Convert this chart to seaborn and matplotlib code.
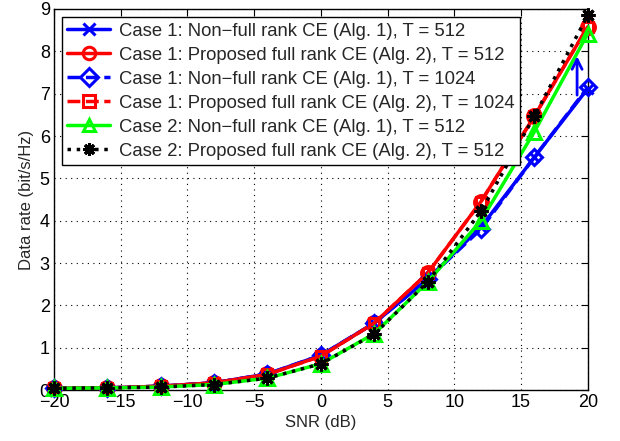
import numpy as np
import pandas as pd
import matplotlib
matplotlib.use("Agg")
import matplotlib.pyplot as plt
import seaborn as sns

snr = [-20, -16, -12, -8, -4, 0, 4, 8, 12, 16, 20]
c1_alg1_512 = [0.04, 0.05, 0.09, 0.17, 0.38, 0.82, 1.58, 2.62, 3.85, 5.50, 7.12]
c1_alg2_512 = [0.04, 0.05, 0.09, 0.17, 0.37, 0.80, 1.58, 2.76, 4.45, 6.47, 8.58]
c1_alg1_1024 = [0.04, 0.05, 0.09, 0.17, 0.38, 0.82, 1.58, 2.62, 3.80, 5.50, 7.15]
c1_alg2_1024 = [0.04, 0.05, 0.09, 0.17, 0.37, 0.80, 1.58, 2.76, 4.45, 6.47, 8.58]
c2_alg1_512 = [0.04, 0.05, 0.07, 0.13, 0.28, 0.62, 1.33, 2.55, 4.00, 6.10, 8.42]
c2_alg2_512 = [0.04, 0.05, 0.07, 0.13, 0.28, 0.62, 1.32, 2.55, 4.22, 6.47, 8.85]

labels = [
    "Case 1: Non\u2212full rank CE (Alg. 1), T = 512",
    "Case 1: Proposed full rank CE (Alg. 2), T = 512",
    "Case 1: Non\u2212full rank CE (Alg. 1), T = 1024",
    "Case 1: Proposed full rank CE (Alg. 2), T = 1024",
    "Case 2: Non\u2212full rank CE (Alg. 1), T = 512",
    "Case 2: Proposed full rank CE (Alg. 2), T = 512",
]
series = [c1_alg1_512, c1_alg2_512, c1_alg1_1024, c1_alg2_1024, c2_alg1_512, c2_alg2_512]

styles = [
    dict(color=(0, 0, 1), ls="-", marker="x", ms=7, mfc="none"),
    dict(color=(1, 0, 0), ls="-", marker="o", ms=10, mfc="none"),
    dict(color=(0, 0, 1), ls="--", marker="D", ms=8, mfc="none"),
    dict(color=(1, 0, 0), ls="--", marker="s", ms=7, mfc="none"),
    dict(color=(0, 1, 0), ls="-", marker="^", ms=10, mfc="none"),
    dict(color=(0, 0, 0), ls=":", marker=(8, 2, 0), ms=10, mfc="k"),
]

sns.set_style("white")
plt.rcParams["font.family"] = ["Liberation Sans", "DejaVu Sans"]
plt.rcParams["axes.unicode_minus"] = True

fig = plt.figure(figsize=(6.2, 4.41), dpi=100)
ax = fig.add_axes([0.087, 0.1156, 0.861, 0.864])

for lab, vals, st in zip(labels, series, styles):
    df = pd.DataFrame({"SNR": snr, "rate": vals})
    sns.lineplot(data=df, x="SNR", y="rate", ax=ax, label=lab,
                 color=st["color"], linestyle=st["ls"], marker=st["marker"],
                 markersize=st["ms"], markerfacecolor=st["mfc"],
                 markeredgecolor=st["color"], markeredgewidth=2.2,
                 linewidth=2.5, clip_on=False, zorder=3)

ax.annotate("", xy=(19.2, 7.95), xytext=(19.2, 6.9),
            arrowprops=dict(arrowstyle="->", color=(0, 0, 1), lw=2,
                            mutation_scale=18), zorder=5)

ax.set_xlim(-20, 20)
ax.set_ylim(0, 9)
ax.set_xticks([-20, -15, -10, -5, 0, 5, 10, 15, 20])
ax.set_yticks(range(0, 10))
ax.grid(True, linestyle=(0, (1, 4)), color="k", linewidth=0.8)
ax.tick_params(direction="in", top=True, right=True, labelsize=13,
               length=5, width=0.8, colors="k", pad=3)
for s in ax.spines.values():
    s.set_color("k")
    s.set_linewidth(1.0)
ax.set_xlabel("SNR (dB)", fontsize=12, labelpad=3)
ax.set_ylabel("Data rate (bit/s/Hz)", fontsize=12, labelpad=4)

leg = ax.legend(loc="upper left", bbox_to_anchor=(0.015, 0.979), fontsize=13.3,
                frameon=True, fancybox=False, framealpha=1, edgecolor="k",
                handlelength=2.3, labelspacing=0.38, borderpad=0.3,
                handletextpad=0.5, borderaxespad=0.0)
leg.get_frame().set_linewidth(1.0)
for line in leg.get_lines():
    line.set_markersize(9)
    line.set_linewidth(2.5)

fig.savefig("out.png", dpi=100)
